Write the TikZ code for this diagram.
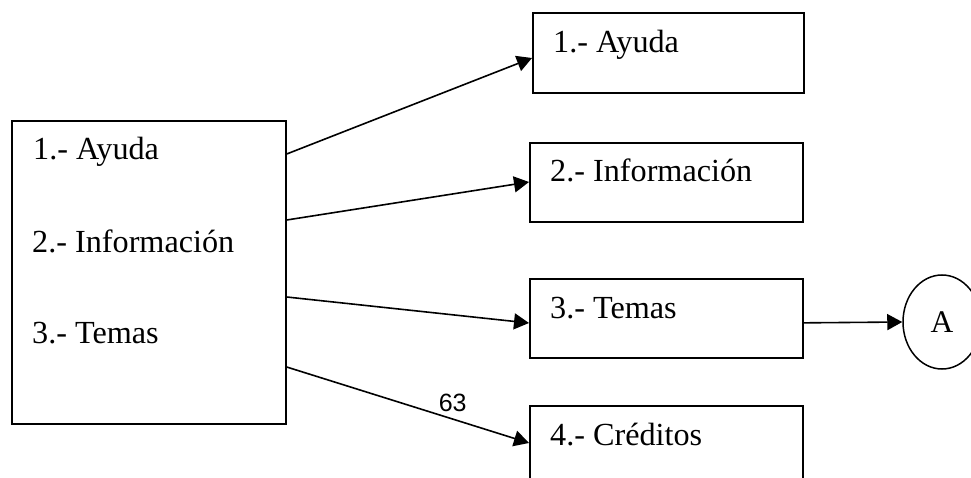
\documentclass[tikz,border=0pt]{standalone}
\usepackage{fontspec}
\setmainfont{Liberation Serif}
\newfontfamily\labelsans{Liberation Sans}
\usetikzlibrary{arrows.meta,shapes.geometric}

\tikzset{
  menubox/.style={draw, line width=1.7pt, rectangle, inner sep=0pt},
  itemtext/.style={anchor=base west, inner sep=0pt, font=\fontsize{32.2}{36}\selectfont},
  link/.style={line width=1.6pt, -{Triangle[length=15pt,width=16pt]}},
}

\begin{document}
\begin{tikzpicture}[x=1pt,y=1pt]
  \useasboundingbox (0,0) rectangle (971,-478);
  \clip (0,0) rectangle (971,-478);

  % main menu
  \node[menubox, minimum width=274pt, minimum height=303pt, anchor=north west] (L) at (11,-120) {};
  \node[itemtext] (l1) at ([xshift=22pt,yshift=-40pt]L.north west) {1.- Ayuda};
  \node[itemtext] (l2) at ([xshift=21pt,yshift=-133pt]L.north west) {2.- Información};
  \node[itemtext] (l3) at ([xshift=21pt,yshift=-223pt]L.north west) {3.- Temas};

  % option screens
  \node[menubox, minimum width=271pt, minimum height=80pt, anchor=north west] (B1) at (532,-12) {};
  \node[menubox, minimum width=273pt, minimum height=79pt, anchor=north west] (B2) at (529,-142) {};
  \node[menubox, minimum width=273pt, minimum height=79pt, anchor=north west] (B3) at (529,-278) {};
  \node[menubox, minimum width=273pt, minimum height=85pt, anchor=north west] (B4) at (529,-405) {};

  \node[itemtext] (t1) at ([xshift=21pt,yshift=-41pt]B1.north west) {1.- Ayuda};
  \node[itemtext] (t2) at ([xshift=21pt,yshift=-40pt]B2.north west) {2.- Información};
  \node[itemtext] (t3) at ([xshift=21pt,yshift=-40pt]B3.north west) {3.- Temas};
  \node[itemtext] (t4) at ([xshift=21pt,yshift=-40pt]B4.north west) {4.- Créditos};

  % connector
  \node[draw, line width=1.5pt, ellipse, minimum width=78pt, minimum height=94pt, inner sep=0pt,
        font=\fontsize{31.5}{36}\selectfont] (A) at (942,-322) {A};

  % links
  \draw[link] ([yshift=-34pt]L.north east) -- ([yshift=-46pt]B1.north west);
  \draw[link] ([yshift=-100pt]L.north east) -- ([yshift=-40pt]B2.north west);
  \draw[link] ([yshift=-177pt]L.north east) -- ([yshift=-45pt]B3.north west);
  \draw[link] ([yshift=-247pt]L.north east) -- ([yshift=-38pt]B4.north west)
    node[pos=0.685, yshift=16pt, font=\labelsans\fontsize{25}{28}\selectfont] (n63) {63};
  \draw[link] ([yshift=-4.5pt]B3.east) -- (A.west);
\end{tikzpicture}
\end{document}
